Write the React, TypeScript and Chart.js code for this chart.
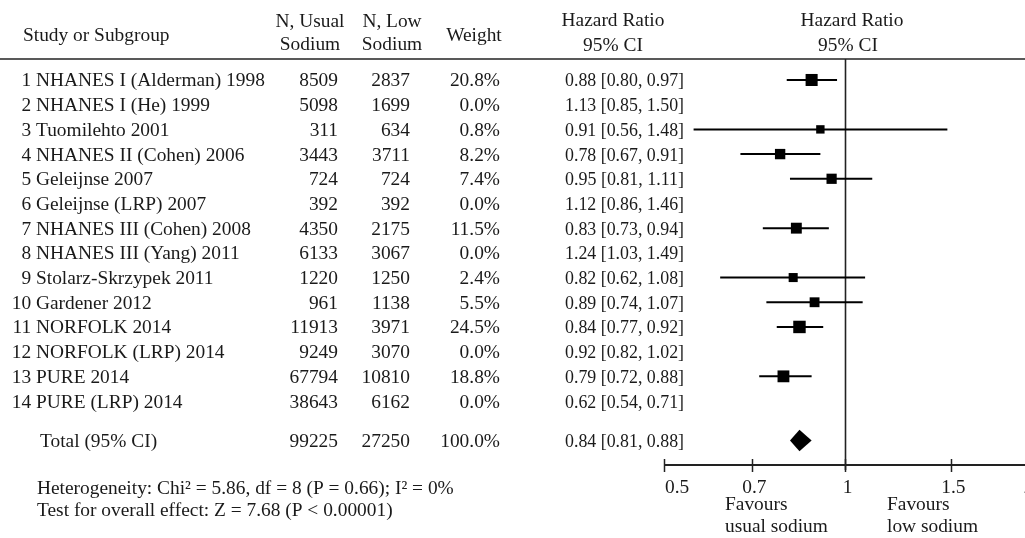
import React, { useEffect, useRef } from "react";
import { Chart, registerables } from "chart.js";

Chart.register(...registerables);

// ---- data ----
const studyNumbers = ["1", "2", "3", "4", "5", "6", "7", "8", "9", "10", "11", "12", "13", "14"];
const studies = [
  "NHANES I (Alderman) 1998",
  "NHANES I (He) 1999",
  "Tuomilehto 2001",
  "NHANES II (Cohen) 2006",
  "Geleijnse 2007",
  "Geleijnse (LRP) 2007",
  "NHANES III (Cohen) 2008",
  "NHANES III (Yang) 2011",
  "Stolarz-Skrzypek 2011",
  "Gardener 2012",
  "NORFOLK 2014",
  "NORFOLK (LRP) 2014",
  "PURE 2014",
  "PURE (LRP) 2014",
];
const nUsual = [8509, 5098, 311, 3443, 724, 392, 4350, 6133, 1220, 961, 11913, 9249, 67794, 38643];
const nLow = [2837, 1699, 634, 3711, 724, 392, 2175, 3067, 1250, 1138, 3971, 3070, 10810, 6162];
const weights = [20.8, 0.0, 0.8, 8.2, 7.4, 0.0, 11.5, 0.0, 2.4, 5.5, 24.5, 0.0, 18.8, 0.0];
const hazardRatio = [0.88, 1.13, 0.91, 0.78, 0.95, 1.12, 0.83, 1.24, 0.82, 0.89, 0.84, 0.92, 0.79, 0.62];
const ciLow = [0.80, 0.85, 0.56, 0.67, 0.81, 0.86, 0.73, 1.03, 0.62, 0.74, 0.77, 0.82, 0.72, 0.54];
const ciHigh = [0.97, 1.50, 1.48, 0.91, 1.11, 1.46, 0.94, 1.49, 1.08, 1.07, 0.92, 1.02, 0.88, 0.71];

const totalLabel = "Total (95% CI)";
const totalUsual = 99225;
const totalLow = 27250;
const totalWeight = 100.0;
const totalHR = 0.84;
const totalLo = 0.81;
const totalHi = 0.88;

const tickValues = [0.5, 0.7, 1, 1.5, 2];
const tickLabels = ["0.5", "0.7", "1", "1.5", "2"];

const heterogeneityText = "Heterogeneity: Chi\u00B2 = 5.86, df = 8 (P = 0.66); I\u00B2 = 0%";
const overallText = "Test for overall effect: Z = 7.68 (P < 0.00001)";

// ---- layout / style constants ----
const FONT = '19.4px "Liberation Serif", "Times New Roman", serif';
const TEXT = "#1a1a1a";
const TOTAL_ROW = 15.6;
const CI_TEXT_X = 565;
const CI_TEXT_WIDTH = 119;

const fmt2 = (v: number) => v.toFixed(2);

export default function App() {
  const ref = useRef<HTMLCanvasElement>(null);

  useEffect(() => {
    const canvas = ref.current;
    if (!canvas) return;

    const ciDatasets: any[] = [];
    const squares: any[] = [];
    const squareRadius: number[] = [];
    studies.forEach((_, i) => {
      if (weights[i] <= 0) return;
      ciDatasets.push({
        type: "line",
        data: [
          { x: ciLow[i], y: i + 1 },
          { x: ciHigh[i], y: i + 1 },
        ],
        borderColor: "#000",
        borderWidth: 2,
        pointRadius: 0,
        showLine: true,
        fill: false,
      });
      squares.push({ x: hazardRatio[i], y: i + 1 });
      const side = 7.5 + Math.sqrt(weights[i]);
      squareRadius.push(side * Math.SQRT1_2);
    });

    const tablePlugin = {
      id: "forestTable",
      beforeDatasetsDraw(chart: any) {
        const ctx = chart.ctx;
        const xs = chart.scales.x;
        const area = chart.chartArea;
        ctx.save();
        ctx.strokeStyle = "#222";
        // header rule
        ctx.lineWidth = 1.6;
        ctx.beginPath();
        ctx.moveTo(0, area.top);
        ctx.lineTo(1040, area.top);
        ctx.stroke();
        // null line at 1
        const x1 = Math.round(xs.getPixelForValue(1)) + 0.5;
        ctx.lineWidth = 1.6;
        ctx.beginPath();
        ctx.moveTo(x1, area.top);
        ctx.lineTo(x1, area.bottom + 5);
        ctx.stroke();
        // axis
        ctx.lineWidth = 2;
        ctx.beginPath();
        ctx.moveTo(xs.getPixelForValue(tickValues[0]), area.bottom);
        ctx.lineTo(xs.getPixelForValue(tickValues[tickValues.length - 1]), area.bottom);
        ctx.stroke();
        ctx.lineWidth = 1.5;
        tickValues.forEach((v) => {
          const px = Math.round(xs.getPixelForValue(v)) + 0.5;
          ctx.beginPath();
          ctx.moveTo(px, area.bottom - 6);
          ctx.lineTo(px, area.bottom + 7);
          ctx.stroke();
        });
        ctx.restore();
      },
      afterDatasetsDraw(chart: any) {
        const ctx = chart.ctx;
        const xs = chart.scales.x;
        const ys = chart.scales.y;
        ctx.save();
        // total diamond
        const ty = ys.getPixelForValue(TOTAL_ROW);
        const h = 10.8;
        ctx.fillStyle = "#000";
        ctx.beginPath();
        ctx.moveTo(xs.getPixelForValue(totalLo), ty);
        ctx.lineTo(xs.getPixelForValue(totalHR), ty - h);
        ctx.lineTo(xs.getPixelForValue(totalHi), ty);
        ctx.lineTo(xs.getPixelForValue(totalHR), ty + h);
        ctx.closePath();
        ctx.fill();

        ctx.font = FONT;
        ctx.fillStyle = TEXT;
        ctx.textBaseline = "alphabetic";

        // headers
        ctx.textAlign = "left";
        ctx.fillText("Study or Subgroup", 23, 40.5);
        ctx.textAlign = "center";
        ctx.fillText("N, Usual", 310, 26.5);
        ctx.fillText("Sodium", 310, 50);
        ctx.fillText("N, Low", 392, 26.5);
        ctx.fillText("Sodium", 392, 50);
        ctx.fillText("Weight", 474, 40.5);
        ctx.fillText("Hazard Ratio", 613, 26);
        ctx.fillText("95% CI", 613, 51);
        ctx.fillText("Hazard Ratio", 852, 26);
        ctx.fillText("95% CI", 848, 51);

        const off = 6.5;
        studies.forEach((name, i) => {
          const y = ys.getPixelForValue(i + 1) + off;
          ctx.textAlign = "right";
          ctx.fillText(studyNumbers[i] + " ", 36, y);
          ctx.textAlign = "left";
          ctx.fillText(name, 36, y);
          ctx.textAlign = "right";
          ctx.fillText(String(nUsual[i]), 338, y);
          ctx.fillText(String(nLow[i]), 410, y);
          ctx.fillText(weights[i].toFixed(1) + "%", 500, y);
          ctx.textAlign = "left";
          ctx.fillText(
            `${fmt2(hazardRatio[i])} [${fmt2(ciLow[i])}, ${fmt2(ciHigh[i])}]`,
            CI_TEXT_X,
            y,
            CI_TEXT_WIDTH
          );
        });

        const yt = ty + off;
        ctx.textAlign = "left";
        ctx.fillText(totalLabel, 40, yt);
        ctx.textAlign = "right";
        ctx.fillText(String(totalUsual), 338, yt);
        ctx.fillText(String(totalLow), 410, yt);
        ctx.fillText(totalWeight.toFixed(1) + "%", 500, yt);
        ctx.textAlign = "left";
        ctx.fillText(`${fmt2(totalHR)} [${fmt2(totalLo)}, ${fmt2(totalHi)}]`, CI_TEXT_X, yt, CI_TEXT_WIDTH);

        // footnotes
        ctx.fillText(heterogeneityText, 37, 494);
        ctx.fillText(overallText, 37, 516);

        // tick labels
        tickValues.forEach((v, k) => {
          const px = xs.getPixelForValue(v);
          if (k === 0) {
            ctx.textAlign = "left";
            ctx.fillText(tickLabels[k], px + 1, 493);
          } else {
            ctx.textAlign = "center";
            ctx.fillText(tickLabels[k], px + 2.5, 493);
          }
        });

        ctx.textAlign = "left";
        ctx.fillText("Favours", 725, 510);
        ctx.fillText("usual sodium", 725, 532);
        ctx.fillText("Favours", 887, 510);
        ctx.fillText("low sodium", 887, 532);
        ctx.restore();
      },
    };

    const chart = new Chart(canvas, {
      type: "scatter",
      data: {
        datasets: [
          ...ciDatasets,
          {
            type: "scatter",
            data: squares,
            pointStyle: "rect",
            pointRadius: squareRadius,
            pointHoverRadius: squareRadius,
            backgroundColor: "#000",
            borderColor: "#000",
            borderWidth: 0,
            showLine: false,
          },
        ],
      },
      options: {
        responsive: false,
        animation: false,
        devicePixelRatio: 1,
        layout: { padding: { left: 664, right: 14, top: 59, bottom: 73 } },
        plugins: { legend: { display: false }, tooltip: { enabled: false } },
        events: [],
        scales: {
          x: { type: "logarithmic", min: 0.5, max: 2, display: false },
          y: { type: "linear", min: 0.15, max: 16.59, reverse: true, display: false },
        },
      },
      plugins: [tablePlugin],
    } as any);

    return () => chart.destroy();
  }, []);

  return (
    <div
      style={{
        position: "fixed",
        left: 0,
        top: 0,
        width: 1025,
        height: 538,
        overflow: "hidden",
        background: "#fff",
      }}
    >
      <canvas ref={ref} width={1040} height={538} style={{ display: "block", width: 1040, height: 538 }} />
    </div>
  );
}
